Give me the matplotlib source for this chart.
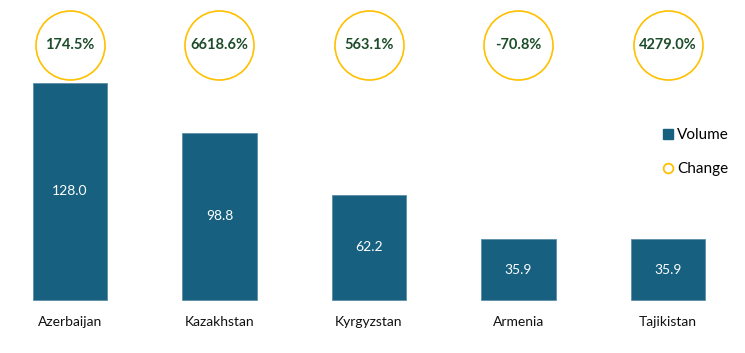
import matplotlib
matplotlib.use("Agg")
import matplotlib.pyplot as plt
from matplotlib.lines import Line2D

countries = ["Azerbaijan", "Kazakhstan", "Kyrgyzstan", "Armenia", "Tajikistan"]
volume = [128.0, 98.8, 62.2, 35.9, 35.9]
change_pct = [174.5, 6618.6, 563.1, -70.8, 4279.0]

BAR = "#17607f"
GOLD = "#ffc000"
GREEN = "#1d4d2a"

plt.rcParams["font.family"] = ["Lato", "DejaVu Sans"]

fig = plt.figure(figsize=(7.45, 3.53), dpi=100)
ax = fig.add_axes([0, 0, 1, 1])
ax.set_xlim(-0.468, 4.515)
ax.set_ylim(-31.3, 177)
ax.axis("off")

x = list(range(len(countries)))
ax.bar(x, volume, width=0.5, color=BAR, edgecolor="#5d8fa8", linewidth=0.6)

for xi, v in zip(x, volume):
    ax.text(xi, v / 2, f"{v:.1f}", ha="center", va="center", color="white", fontsize=10)

for xi, name in zip(x, countries):
    ax.text(xi, -13, name, ha="center", va="center", color="#111111", fontsize=10)

# circles: ~69 px across
circle_y = 150.4
ax.scatter(x, [circle_y] * len(x), s=2470, facecolors="white", edgecolors=GOLD,
           linewidths=1.2, zorder=3)
for xi, c in zip(x, change_pct):
    ax.text(xi, circle_y, f"{c:.1f}%", ha="center", va="center", color=GREEN,
            fontsize=10.5, fontweight="bold", zorder=4)

handles = [
    Line2D([], [], marker="s", linestyle="none", markersize=6.5, markerfacecolor=BAR, markeredgecolor=BAR),
    Line2D([], [], marker="o", linestyle="none", markersize=7, markerfacecolor="white",
           markeredgecolor=GOLD, markeredgewidth=1.3),
]
fig.legend(handles, ["Volume", "Change"], loc="upper left", bbox_to_anchor=(0.868, 0.676),
           frameon=False, fontsize=11, handletextpad=0.1, labelspacing=1.3, handlelength=1.0)

fig.savefig("out.png", dpi=100)
